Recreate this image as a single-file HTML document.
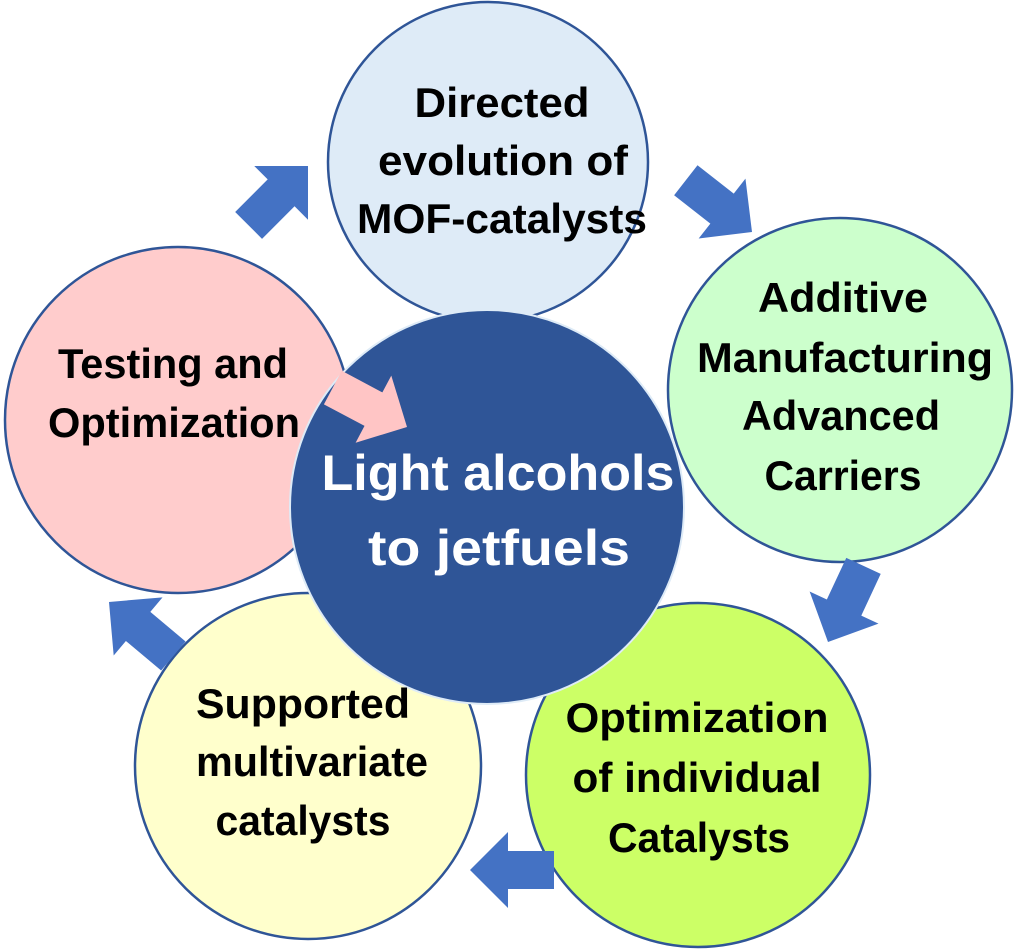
<!DOCTYPE html>
<html><head><meta charset="utf-8"><style>html,body{margin:0;padding:0;background:#fff}svg{display:block}</style></head>
<body>
<svg width="1024" height="951" viewBox="0 0 1024 951" xmlns="http://www.w3.org/2000/svg" font-family="'Liberation Sans', sans-serif" font-weight="bold">
<defs>
<polygon id="arr" points="0,0 -38,-38 -38,-19 -84,-19 -84,19 -38,19 -38,38"/>
</defs>
<g stroke="#2F5597" stroke-width="2.5">
<circle cx="488" cy="162" r="160" fill="#DEEBF7"/>
<circle cx="840" cy="390" r="172" fill="#CCFFCC"/>
<circle cx="698" cy="775" r="172" fill="#CCFF66"/>
<circle cx="308" cy="766" r="173" fill="#FFFFCC"/>
<circle cx="178" cy="420" r="173" fill="#FFCCCC"/>
</g>
<circle cx="487" cy="507" r="197" fill="#2F5597" stroke="#DEEBF7" stroke-width="2"/>
<g fill="#4472C4">
<use href="#arr" transform="translate(308,166) rotate(-45)"/>
<use href="#arr" transform="translate(752,232) rotate(38)"/>
<use href="#arr" transform="translate(828,642) rotate(115)"/>
<use href="#arr" transform="translate(470,870) rotate(180)"/>
<use href="#arr" transform="translate(109,602) rotate(-140)"/>
</g>
<use href="#arr" fill="#FFC5C5" transform="translate(407,427) rotate(28)"/>
<g fill="#000" font-size="42" text-anchor="middle" lengthAdjust="spacingAndGlyphs">
<text x="502" y="117" textLength="175" lengthAdjust="spacingAndGlyphs">Directed</text>
<text x="503" y="175" textLength="250" lengthAdjust="spacingAndGlyphs">evolution of</text>
<text x="502" y="233" textLength="290" lengthAdjust="spacingAndGlyphs">MOF-catalysts</text>
<text x="843" y="312" textLength="170" lengthAdjust="spacingAndGlyphs">Additive</text>
<text x="845" y="372" textLength="296" lengthAdjust="spacingAndGlyphs">Manufacturing</text>
<text x="841" y="430" textLength="198" lengthAdjust="spacingAndGlyphs">Advanced</text>
<text x="843" y="490" textLength="157" lengthAdjust="spacingAndGlyphs">Carriers</text>
<text x="173" y="378" textLength="230" lengthAdjust="spacingAndGlyphs">Testing and</text>
<text x="174" y="437" textLength="252" lengthAdjust="spacingAndGlyphs">Optimization</text>
<text x="303" y="718" textLength="214" lengthAdjust="spacingAndGlyphs">Supported</text>
<text x="312" y="776" textLength="232" lengthAdjust="spacingAndGlyphs">multivariate</text>
<text x="303" y="835" textLength="175" lengthAdjust="spacingAndGlyphs">catalysts</text>
<text x="697" y="732" textLength="263" lengthAdjust="spacingAndGlyphs">Optimization</text>
<text x="697" y="792" textLength="249" lengthAdjust="spacingAndGlyphs">of individual</text>
<text x="699" y="852" textLength="182" lengthAdjust="spacingAndGlyphs">Catalysts</text>
</g>
<g fill="#fff" font-size="50" text-anchor="middle">
<text x="498" y="490" textLength="353" lengthAdjust="spacingAndGlyphs">Light alcohols</text>
<text x="499" y="565" textLength="262" lengthAdjust="spacingAndGlyphs">to jetfuels</text>
</g>
</svg>
</body></html>
